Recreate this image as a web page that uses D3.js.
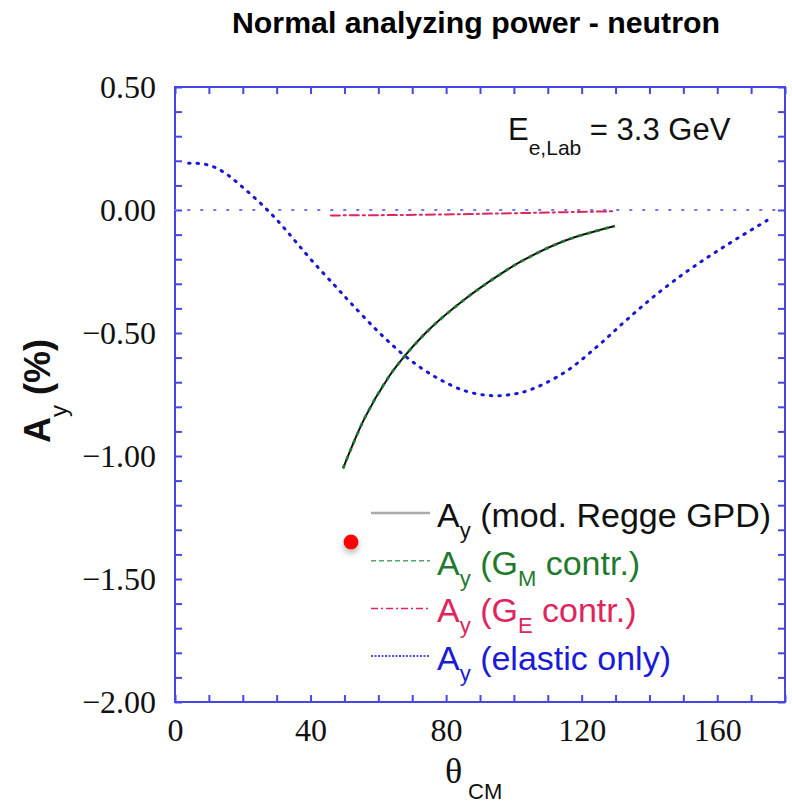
<!DOCTYPE html>
<html>
<head>
<meta charset="utf-8">
<script src="https://cdnjs.cloudflare.com/ajax/libs/d3/7.8.5/d3.min.js"></script>
<style>
  body { margin: 0; background: #fff; }
  svg { display: block; }
</style>
</head>
<body>
<div id="chart"></div>
<script>
// Normal analyzing power - neutron, E = 3.3 GeV
// values

const thetaElastic = [4, 8, 12, 16, 20, 24, 28, 32, 36, 41, 47, 52, 60, 68, 77, 86, 94, 100, 105, 115, 125, 133, 141, 150, 158, 166, 175];
const ayElastic = [0.19, 0.188, 0.172, 0.138, 0.092, 0.043, -0.01, -0.07, -0.135, -0.215, -0.305, -0.38, -0.495, -0.595, -0.68, -0.737, -0.755, -0.748, -0.73, -0.66, -0.55, -0.45, -0.355, -0.26, -0.185, -0.115, -0.04];

const thetaRegge = [49.6, 56, 63, 68, 75.6, 85.6, 95, 102, 115, 129.8];
const ayRegge = [-1.05, -0.845, -0.68, -0.59, -0.478, -0.362, -0.27, -0.21, -0.125, -0.065];
// G_M contribution lies on top of the full curve
const ayGM = ayRegge.slice();

const thetaGE = [46, 60, 80, 100, 115, 130];
const ayGE = [-0.022, -0.021, -0.018, -0.013, -0.009, -0.005];

const thetaZero = [0, 180];
const ayZero = [0, 0];

const xTicks = d3.range(0, 181, 10);
const xLabels = [0, 40, 80, 120, 160];
const yTicks = d3.range(-20, 6).map(i => i / 10);
const yLabels = [-2, -1.5, -1, -0.5, 0, 0.5];

const legendRows = [
  { parts: [["A", 0], ["y", 1], [" (mod. Regge GPD)", 0]], text: "#111", line: "#aaaaaa", dash: null, w: 2.5 },
  { parts: [["A", 0], ["y", 1], [" (G", 0], ["M", 1], [" contr.)", 0]], text: "#1f7a2e", line: "#5aa46a", dash: "5,3", w: 1.5 },
  { parts: [["A", 0], ["y", 1], [" (G", 0], ["E", 1], [" contr.)", 0]], text: "#e0245e", line: "#e0245e", dash: "7,3,2,3", w: 1.5 },
  { parts: [["A", 0], ["y", 1], [" (elastic only)", 0]], text: "#1a1ad8", line: "#1a1ad8", dash: "2,1.5", w: 1.5 }
];

const W = 792, H = 803;
const frameColor = "#4646e6";

const svg = d3.select("#chart").append("svg")
  .attr("width", W).attr("height", H)
  .attr("viewBox", `0 0 ${W} ${H}`);

const x = d3.scaleLinear().domain([0, 180]).range([175, 785]);
const y = d3.scaleLinear().domain([-2, 0.5]).range([702, 87]);

// Title
svg.append("text")
  .attr("x", 476).attr("y", 33)
  .attr("text-anchor", "middle")
  .attr("textLength", 488).attr("lengthAdjust", "spacingAndGlyphs")
  .style("font-family", "'Liberation Sans', Arial, sans-serif")
  .style("font-weight", "bold").style("font-size", "29px")
  .text("Normal analyzing power - neutron");

// Axes (ticks point inward)
const fmtY = d => yLabels.some(v => Math.abs(v - d) < 1e-9) ? d3.format(".2f")(d) : "";
const fmtX = d => xLabels.includes(d) ? d : "";

function styleAxis(g) {
  g.select(".domain").remove();
  g.selectAll(".tick line").attr("stroke", frameColor).attr("stroke-width", 2);
  g.selectAll(".tick text")
    .attr("fill", "#111")
    .style("font-family", "'Liberation Serif', 'Times New Roman', serif")
    .style("font-size", "32px");
}

svg.append("g").attr("transform", `translate(0,${y(-2)})`)
  .call(d3.axisBottom(x).tickValues(xTicks).tickSize(-7).tickPadding(16).tickFormat(fmtX))
  .call(styleAxis);
svg.append("g").attr("transform", `translate(0,${y(0.5)})`)
  .call(d3.axisTop(x).tickValues(xTicks).tickSize(-7).tickFormat(""))
  .call(styleAxis);
svg.append("g").attr("transform", `translate(${x(0)},0)`)
  .call(d3.axisLeft(y).tickValues(yTicks).tickSize(-7).tickPadding(19).tickFormat(fmtY))
  .call(styleAxis);
svg.append("g").attr("transform", `translate(${x(180)},0)`)
  .call(d3.axisRight(y).tickValues(yTicks).tickSize(-7).tickFormat(""))
  .call(styleAxis);

// Frame
svg.append("rect")
  .attr("x", x(0)).attr("y", y(0.5))
  .attr("width", x(180) - x(0)).attr("height", y(-2) - y(0.5))
  .attr("fill", "none").attr("stroke", frameColor).attr("stroke-width", 2);

// Curves
const line = d3.line().x(d => x(d[0])).y(d => y(d[1])).curve(d3.curveCatmullRom.alpha(0.5));
const zip = (a, b) => a.map((v, i) => [v, b[i]]);

const gCurves = svg.append("g").attr("fill", "none").attr("stroke-linecap", "round");
gCurves.append("path").attr("d", line(zip(thetaZero, ayZero)))
  .attr("stroke", "#7373ee").attr("stroke-width", 2).attr("stroke-dasharray", "1.5,11.5");
gCurves.append("path").attr("d", line(zip(thetaGE, ayGE)))
  .attr("stroke", "#e0245e").attr("stroke-width", 2).attr("stroke-dasharray", "9,4,2,4");
gCurves.append("path").attr("d", line(zip(thetaElastic, ayElastic)))
  .attr("stroke", "#1818d4").attr("stroke-width", 3).attr("stroke-dasharray", "1.5,7");
gCurves.append("path").attr("d", line(zip(thetaRegge, ayRegge)))
  .attr("stroke", "#111").attr("stroke-width", 2).attr("stroke-linecap", "butt");
gCurves.append("path").attr("d", line(zip(thetaRegge, ayGM)))
  .attr("stroke", "#1f7a2e").attr("stroke-width", 2.8).attr("stroke-linecap", "butt")
  .attr("stroke-dasharray", "4,5");

// Energy annotation
const ann = svg.append("text")
  .attr("x", 508).attr("y", 140)
  .style("font-family", "'Liberation Sans', Arial, sans-serif")
  .style("font-size", "31px").attr("fill", "#111");
ann.append("tspan").text("E");
ann.append("tspan").attr("dy", 15).style("font-size", "21px").text("e,Lab");
ann.append("tspan").attr("dy", -15).text(" = 3.3 GeV");

// Legend
const legend = svg.append("g");
legendRows.forEach((r, i) => {
  const ly = 513 + i * 47.7;
  legend.append("line")
    .attr("x1", 371).attr("x2", 430).attr("y1", ly).attr("y2", ly)
    .attr("stroke", r.line).attr("stroke-width", r.w)
    .attr("stroke-dasharray", r.dash);
  const t = legend.append("text")
    .attr("x", 437).attr("y", ly + 14)
    .attr("fill", r.text)
    .style("font-family", "'Liberation Sans', Arial, sans-serif")
    .style("font-size", "34px");
  let shifted = 0;
  r.parts.forEach(([s, sub]) => {
    const dy = sub ? 11 - shifted : -shifted;
    shifted = sub ? 11 : 0;
    const ts = t.append("tspan").attr("dy", dy).text(s);
    if (sub) ts.style("font-size", "22px");
  });
});

// Axis titles
const yl = svg.append("text")
  .attr("transform", "translate(50,443) rotate(-90)")
  .style("font-family", "'Liberation Sans', Arial, sans-serif")
  .style("font-weight", "bold").style("font-size", "36px").attr("fill", "#111");
yl.append("tspan").text("A");
yl.append("tspan").attr("dy", 17).style("font-size", "24px").style("font-weight", "normal").text("y");
yl.append("tspan").attr("dy", -17).text(" (%)");

svg.append("text").attr("x", 445).attr("y", 783)
  .style("font-family", "'Liberation Serif', 'Times New Roman', serif")
  .style("font-size", "36px").attr("fill", "#111").text("θ");
svg.append("text").attr("x", 468).attr("y", 799)
  .style("font-family", "'Liberation Sans', Arial, sans-serif")
  .style("font-size", "22px").attr("fill", "#111").text("CM");

// red marker dot
const defs = svg.append("defs");
defs.append("filter").attr("id", "shadow").attr("x", "-50%").attr("y", "-50%").attr("width", "200%").attr("height", "220%")
  .append("feDropShadow").attr("dx", 0).attr("dy", 4).attr("stdDeviation", 3)
  .attr("flood-color", "#888").attr("flood-opacity", 0.6);
svg.append("circle").attr("cx", 351).attr("cy", 542).attr("r", 7.5)
  .attr("fill", "#f00").attr("filter", "url(#shadow)");
</script>
</body>
</html>
